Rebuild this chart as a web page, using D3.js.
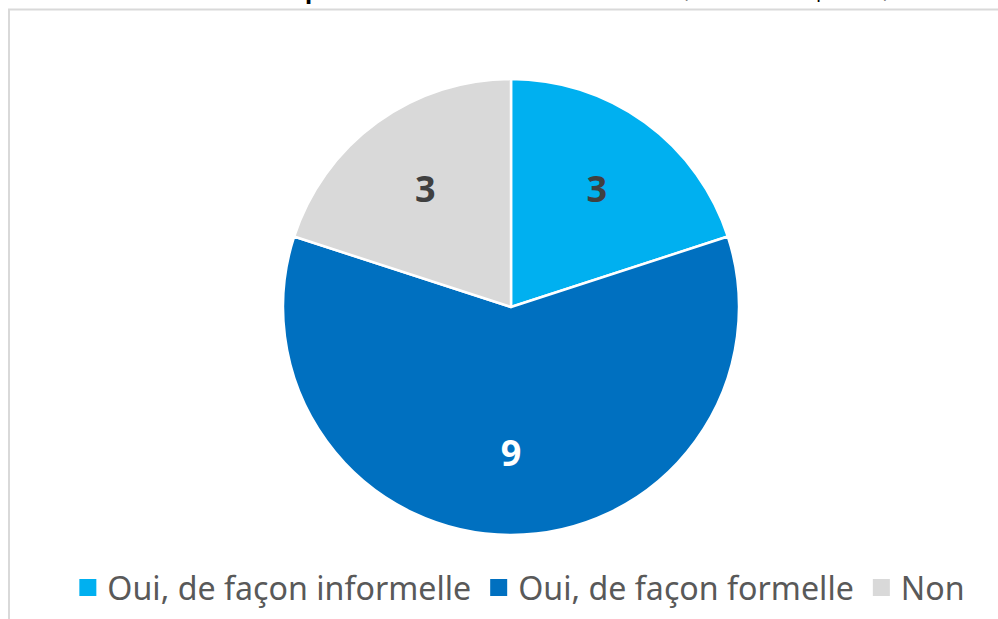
<!DOCTYPE html>
<html>
<head>
<meta charset="utf-8">
<script src="https://cdn.jsdelivr.net/npm/d3@7"></script>
<style>
  body { margin: 0; background: #fff; }
  svg { display: block; }
</style>
</head>
<body>
<div class="canvas"></div>
<script>
// chart data
const categories = ["Oui, de façon informelle", "Oui, de façon formelle", "Non"];
const values = [3, 9, 3];
const colors = ["#00B0F0", "#0070C0", "#D9D9D9"];
const labelColors = ["#404040", "#FFFFFF", "#404040"];

const width = 998, height = 619;
const cx = 511, cy = 307, radius = 228;

const svg = d3.select(".canvas").append("svg")
  .attr("width", width)
  .attr("height", height);

// title (mostly cut off at the top of the picture)
svg.append("text")
  .attr("x", 305).attr("y", -2)
  .style("font-family", "Noto Sans, sans-serif")
  .style("font-size", "24px").style("font-weight", "bold")
  .attr("fill", "#000")
  .text("procédure formalisée");
svg.append("text")
  .attr("x", 816).attr("y", -3)
  .attr("text-anchor", "end")
  .style("font-family", "Noto Sans, sans-serif")
  .style("font-size", "20px")
  .attr("fill", "#000")
  .text("(nombre de ré");
svg.append("text")
  .attr("x", 816).attr("y", -3)
  .style("font-family", "Noto Sans, sans-serif")
  .style("font-size", "20px")
  .attr("fill", "#000")
  .text("ponses)");

// chart frame
svg.append("path")
  .attr("d", `M9,${height} V9.5 H${width}`)
  .attr("fill", "none")
  .attr("stroke", "#D9D9D9")
  .attr("stroke-width", 2);

const pie = d3.pie().sort(null).value(d => d)(values);
const arc = d3.arc().innerRadius(0).outerRadius(radius);
const labelArc = d3.arc().innerRadius(radius * 0.64).outerRadius(radius * 0.64);

const g = svg.append("g").attr("transform", `translate(${cx},${cy})`);

g.selectAll("path.slice")
  .data(pie)
  .enter().append("path")
    .attr("class", "slice")
    .attr("d", arc)
    .attr("fill", (d, i) => colors[i])
    .attr("stroke", "#fff")
    .attr("stroke-width", 2.5)
    .attr("stroke-linejoin", "round");

g.selectAll("text.lbl")
  .data(pie)
  .enter().append("text")
    .attr("class", "lbl")
    .attr("transform", d => `translate(${labelArc.centroid(d)})`)
    .attr("text-anchor", "middle")
    .attr("dy", "0.36em")
    .style("font-family", "Open Sans, sans-serif")
    .style("font-size", "36px")
    .style("font-weight", "bold")
    .attr("fill", (d, i) => labelColors[i])
    .text(d => d.data);

// legend
const legend = svg.append("g");
const items = legend.selectAll("g")
  .data(categories)
  .enter().append("g");

items.append("rect")
  .attr("width", 17).attr("height", 17)
  .attr("y", -9)
  .attr("fill", (d, i) => colors[i]);

const legTexts = items.append("text")
  .attr("x", 28)
  .attr("dy", "0.36em")
  .style("font-family", "Noto Sans, sans-serif")
  .style("font-size", "26px")
  .attr("fill", "#595959")
  .text(d => d);

// fit font size so that the first label spans like the reference
const w0 = legTexts.node().getComputedTextLength();
const fs = 26 * 364 / w0;
legTexts.style("font-size", fs + "px");

let xPos = 0;
const offsets = [];
legTexts.each(function(d, i) {
  offsets.push(xPos);
  xPos += 28 + this.getComputedTextLength() + 19;
});
const totalW = xPos - 19;
const startX = 522 - totalW / 2;
items.attr("transform", (d, i) => `translate(${startX + offsets[i]},588)`);
</script>
</body>
</html>
